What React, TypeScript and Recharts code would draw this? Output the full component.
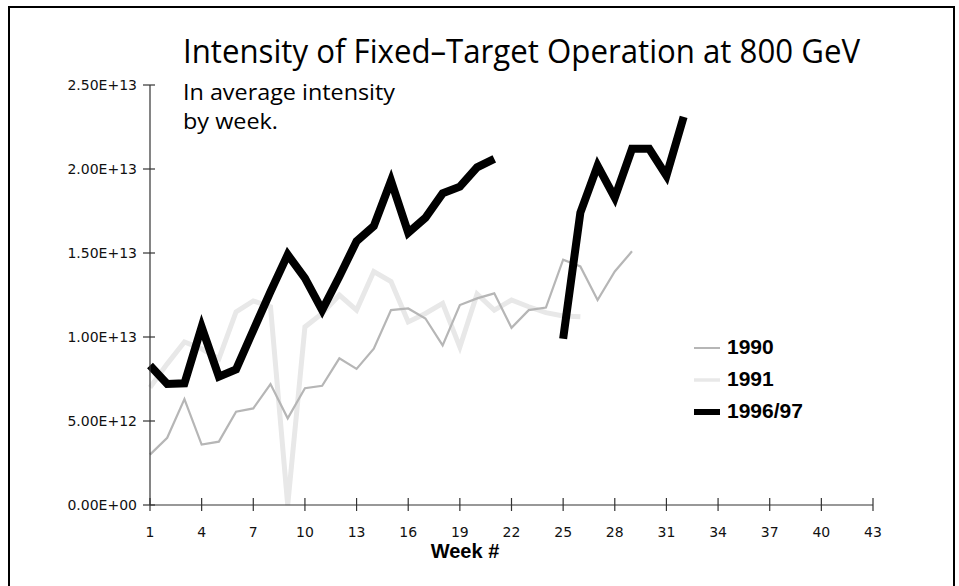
import React from "react";
import { LineChart, Line, XAxis, YAxis } from "recharts";

// week numbers with at least one measurement
const weeks = [
  1, 2, 3, 4, 5, 6, 7, 8, 9, 10, 11, 12, 13, 14, 15, 16, 17, 18, 19, 20, 21,
  22, 23, 24, 25, 26, 27, 28, 29, 30, 31, 32,
];

// average intensity, units of 1E13
const int1990 = [
  0.3, 0.4, 0.63, 0.36, 0.377, 0.555, 0.575, 0.72, 0.516, 0.695, 0.71, 0.873,
  0.81, 0.93, 1.16, 1.17, 1.11, 0.95, 1.19, 1.23, 1.26, 1.055, 1.16, 1.175,
  1.46, 1.42, 1.22, 1.39, 1.51,
];
const int1991 = [
  0.7, 0.84, 0.97, 0.93, 0.87, 1.15, 1.215, 1.18, 0, 1.06, 1.14, 1.25, 1.16,
  1.39, 1.33, 1.09, 1.14, 1.2, 0.94, 1.256, 1.16, 1.22, 1.18, 1.145, 1.125,
  1.12,
];
const int9697: (number | null)[] = [
  0.83, 0.72, 0.724, 1.06, 0.764, 0.807, 1.04, 1.27, 1.49, 1.35, 1.16, 1.36,
  1.57, 1.66, 1.93, 1.62, 1.71, 1.855, 1.895, 2.01, 2.06, null, null, null,
  0.99, 1.74, 2.02, 1.83, 2.12, 2.12, 1.96, 2.31,
];

const xTicks = [1, 4, 7, 10, 13, 16, 19, 22, 25, 28, 31, 34, 37, 40, 43];
const yTicks = [0, 5e12, 1e13, 1.5e13, 2e13, 2.5e13];

const SERIES = [
  { key: "y1991", name: "1991", color: "#e8e8e8", width: 5, legendWidth: 3.5 },
  { key: "y1990", name: "1990", color: "#b6b6b6", width: 2.2, legendWidth: 2 },
  { key: "y9697", name: "1996/97", color: "#000000", width: 8, legendWidth: 6 },
];
const LEGEND_ORDER = ["1990", "1991", "1996/97"];

const data = weeks.map((w, i) => ({
  week: w,
  y1990: int1990[i] != null ? int1990[i] * 1e13 : null,
  y1991: int1991[i] != null ? int1991[i] * 1e13 : null,
  y9697: int9697[i] != null ? (int9697[i] as number) * 1e13 : null,
}));

const AXIS = "#333";
const TICK_FONT = "'DejaVu Sans', sans-serif";

function sci(v: number) {
  if (v === 0) return "0.00E+00";
  const [m, e] = v.toExponential(2).split("e");
  const n = parseInt(e, 10);
  return `${m}E${n >= 0 ? "+" : "-"}${String(Math.abs(n)).padStart(2, "0")}`;
}

// eslint-disable-next-line @typescript-eslint/no-explicit-any
const YTick = (props: any) => {
  const { x, y, payload } = props;
  return (
    <g>
      <line x1={x - 7} x2={x + 5} y1={y} y2={y} stroke={AXIS} strokeWidth={1.2} />
      <text
        x={x - 13}
        y={y + 5}
        textAnchor="end"
        fontSize={14}
        fontFamily={TICK_FONT}
        fill="#111"
      >
        {sci(payload.value)}
      </text>
    </g>
  );
};

// eslint-disable-next-line @typescript-eslint/no-explicit-any
const XTick = (props: any) => {
  const { x, y, payload } = props;
  return (
    <g>
      <line x1={x} x2={x} y1={y - 7} y2={y + 6} stroke={AXIS} strokeWidth={1.2} />
      <text
        x={x}
        y={y + 32}
        textAnchor="middle"
        fontSize={14}
        fontFamily={TICK_FONT}
        fill="#111"
      >
        {payload.value}
      </text>
    </g>
  );
};

const LegendBox = () => (
  <g transform="translate(694, 330)">
    {LEGEND_ORDER.map((name, i) => {
      const s = SERIES.find((d) => d.name === name)!;
      const cy = 18 + i * 32;
      return (
        <g key={name}>
          <line
            x1={0}
            x2={26}
            y1={cy}
            y2={cy}
            stroke={s.color}
            strokeWidth={s.legendWidth}
          />
          <text
            x={33}
            y={cy + 6}
            fontSize={21}
            fontWeight="bold"
            fontFamily="'Liberation Sans', sans-serif"
            fill="#000"
          >
            {name}
          </text>
        </g>
      );
    })}
  </g>
);

export default function App() {
  return (
    <div
      style={{
        position: "absolute",
        left: 0,
        top: 0,
        width: 959,
        height: 586,
        overflow: "hidden",
        background: "#fff",
      }}
    >
      <div
        style={{
          position: "absolute",
          left: 8,
          top: 6,
          width: 943,
          height: 640,
          border: "2px solid #000",
        }}
      />
      <svg
        width={959}
        height={586}
        style={{ position: "absolute", left: 0, top: 0 }}
      >
        <text
          x={183}
          y={63}
          fontSize={33}
          fontFamily="'Open Sans', sans-serif"
          textLength={677}
          lengthAdjust="spacingAndGlyphs"
          fill="#000"
        >
          Intensity of Fixed–Target Operation at 800 GeV
        </text>
        <text
          x={183}
          y={100}
          fontSize={21}
          fontFamily="'Open Sans', sans-serif"
          textLength={212}
          lengthAdjust="spacingAndGlyphs"
          fill="#000"
        >
          In average intensity
        </text>
        <text
          x={183}
          y={129}
          fontSize={21}
          fontFamily="'Open Sans', sans-serif"
          textLength={95}
          lengthAdjust="spacingAndGlyphs"
          fill="#000"
        >
          by week.
        </text>
        <text
          x={465}
          y={558}
          textAnchor="middle"
          fontSize={20}
          fontWeight="bold"
          fontFamily="'Liberation Sans', sans-serif"
          fill="#000"
        >
          Week #
        </text>
        <LegendBox />
      </svg>
      <div style={{ position: "absolute", left: 0, top: 0 }}>
        <LineChart
          width={959}
          height={586}
          data={data}
          margin={{ top: 85, right: 86, bottom: 51, left: 10 }}
        >
          <XAxis
            dataKey="week"
            type="number"
            domain={[1, 43]}
            ticks={xTicks}
            interval={0}
            height={30}
            tickSize={0}
            tickMargin={0}
            tickLine={false}
            axisLine={{ stroke: AXIS, strokeWidth: 1.2 }}
            tick={XTick}
          />
          <YAxis
            type="number"
            domain={[0, 2.5e13]}
            ticks={yTicks}
            interval={0}
            width={140}
            tickSize={0}
            tickMargin={0}
            tickLine={false}
            axisLine={{ stroke: AXIS, strokeWidth: 1.2 }}
            tick={YTick}
          />
          {SERIES.map((s) => (
            <Line
              key={s.key}
              type="linear"
              dataKey={s.key}
              name={s.name}
              stroke={s.color}
              strokeWidth={s.width}
              strokeLinejoin="miter"
              strokeLinecap="butt"
              dot={false}
              activeDot={false}
              connectNulls={false}
              isAnimationActive={false}
            />
          ))}
        </LineChart>
      </div>
    </div>
  );
}
